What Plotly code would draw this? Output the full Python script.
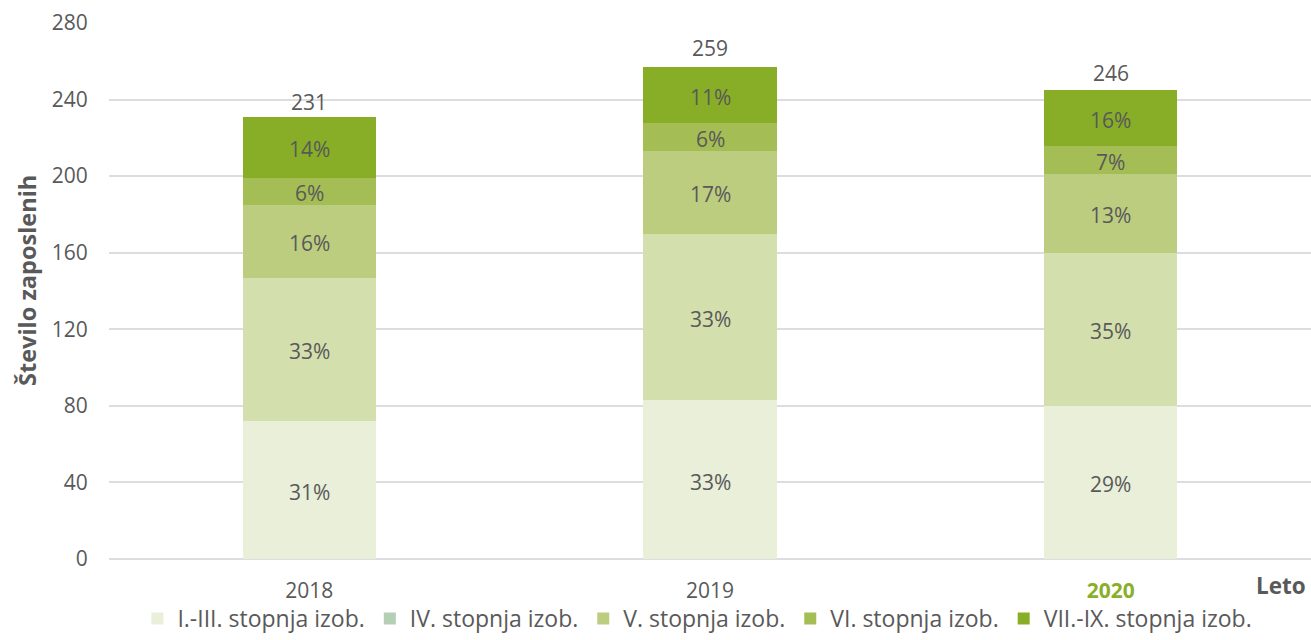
import plotly.graph_objects as go

years = ['2018', '2019', '2020']
series_names = ['I.-III. stopnja izob.', 'IV. stopnja izob.', 'V. stopnja izob.',
                'VI. stopnja izob.', 'VII.-IX. stopnja izob.']

# segment heights (number of employees), bottom to top
vals_1_3 = [72, 83, 80]
vals_4 = [75, 87, 80]
vals_5 = [38, 43, 41]
vals_6 = [14, 15, 15]
vals_7_9 = [32, 29, 29]

# labels shown inside the segments
pct_1_3 = ['31%', '33%', '29%']
pct_4 = ['33%', '33%', '35%']
pct_5 = ['16%', '17%', '13%']
pct_6 = ['6%', '6%', '7%']
pct_7_9 = ['14%', '11%', '16%']

totals = [231, 259, 246]

y_ticks = [0, 40, 80, 120, 160, 200, 240, 280]

bar_colors = ['#e9efd9', '#d4dfae', '#bdcd80', '#a5bd55', '#88ae27']
legend_colors = ['#e9efd9', '#b5cfb4', '#bdcd80', '#a5bd55', '#88ae27']
TXT = '#595959'
FONT = 'Open Sans'

all_vals = [vals_1_3, vals_4, vals_5, vals_6, vals_7_9]
all_pct = [pct_1_3, pct_4, pct_5, pct_6, pct_7_9]

fig = go.Figure()

for name, vals, col in zip(series_names, all_vals, bar_colors):
    fig.add_trace(go.Bar(x=years, y=vals, name=name, marker=dict(color=col, line=dict(width=0)),
                         showlegend=False, hoverinfo='skip'))

# legend entries
for name, col in zip(series_names, legend_colors):
    fig.add_trace(go.Bar(x=[None], y=[None], name=name, marker=dict(color=col, line=dict(width=0)),
                         showlegend=True, hoverinfo='skip'))

annotations = []
# percentage labels at segment midpoints (category axis -> serial index)
for i, yr in enumerate(years):
    base = 0
    for vals, pcts in zip(all_vals, all_pct):
        annotations.append(dict(x=i, y=base + vals[i] / 2, xref='x', yref='y', text=pcts[i],
                                showarrow=False, xanchor='center', yanchor='middle', yshift=-2,
                                font=dict(size=21, color=TXT, family=FONT)))
        base += vals[i]

# totals above bars
for i, t in enumerate(totals):
    annotations.append(dict(x=i, y=t, xref='x', yref='y', text=str(t), showarrow=False,
                            xanchor='center', yanchor='middle', yshift=15,
                            font=dict(size=21, color=TXT, family=FONT)))

# axis titles
annotations.append(dict(text='<b>Število zaposlenih</b>', xref='paper', yref='paper',
                        x=(27 - 109) / 1202, y=(559 - 281) / 536, xanchor='center', yanchor='middle',
                        textangle=-90, showarrow=False, font=dict(size=23.5, color=TXT, family=FONT)))
annotations.append(dict(text='<b>Leto</b>', xref='paper', yref='paper', x=1, y=-(585 - 559) / 536,
                        xanchor='right', yanchor='middle', xshift=-3, showarrow=False,
                        font=dict(size=22.5, color=TXT, family=FONT)))

H = 640
fig.update_layout(
    width=1311, height=H,
    margin=dict(l=109, r=0, t=23, b=H - 559),
    barmode='stack', bargap=0.668,
    plot_bgcolor='white', paper_bgcolor='white',
    font=dict(family=FONT, size=21, color=TXT),
    legend=dict(orientation='h', x=0.4895, xanchor='center', y=-(H - 559) / 536, yanchor='bottom',
                font=dict(size=23, color=TXT), itemwidth=30, traceorder='normal',
                bgcolor='rgba(0,0,0,0)'),
    xaxis=dict(type='category', range=[-0.5, 2.5], showgrid=False, showline=False, zeroline=False,
               ticks='outside', ticklen=13, tickcolor='rgba(0,0,0,0)',
               tickvals=years,
               ticktext=['2018', '2019', "<span style='color:#8aaf2a'><b>2020</b></span>"],
               tickfont=dict(size=21, color=TXT)),
    yaxis=dict(range=[0, 280], tickvals=y_ticks, showgrid=True, gridcolor='#dcdce1', gridwidth=1.5,
               zeroline=True, zerolinecolor='#dcdce1', zerolinewidth=1.5, showline=False,
               ticks='outside', ticklen=16, tickcolor='rgba(0,0,0,0)',
               tickfont=dict(size=21, color=TXT)),
    annotations=annotations,
)

fig.write_html('out.html', config={'displayModeBar': False},
               post_script="document.body.style.margin='0';document.body.style.overflow='hidden';"
                           "document.documentElement.style.overflow='hidden';")
